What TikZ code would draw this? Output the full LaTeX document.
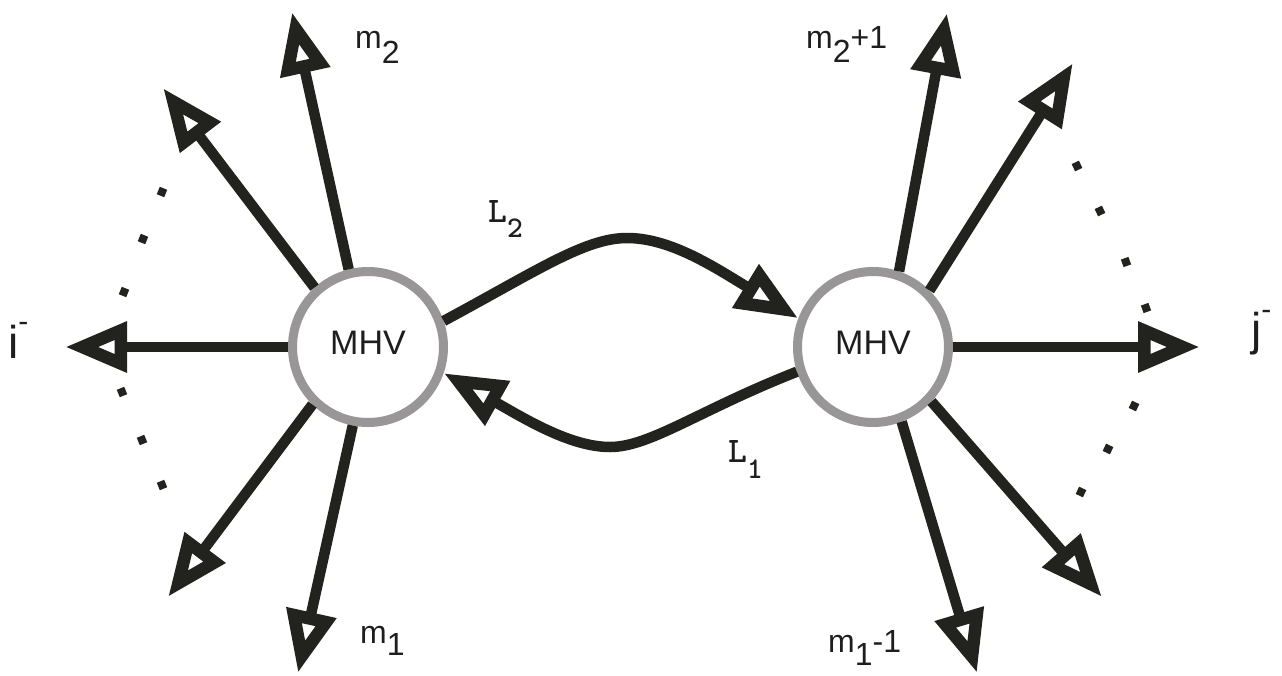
\documentclass[tikz,border=0pt]{standalone}
\usepackage{fontspec}
\setmainfont{Liberation Sans}
\usetikzlibrary{arrows.meta}
\definecolor{linedark}{RGB}{34,34,30}
\definecolor{ringgray}{RGB}{152,150,150}
\definecolor{textdark}{RGB}{30,30,30}
\begin{document}
\begin{tikzpicture}[x=1pt,y=-1pt,
  vertex/.style={circle, draw=ringgray, line width=9pt, fill=white, minimum size=151pt, inner sep=0pt,
    font=\fontsize{34}{34}\selectfont, text=textdark, text height=25pt, text depth=11pt},
  leg/.style={draw=linedark, line width=10.5pt, -{Triangle[open, length=62pt, width=48pt, line width=12.5pt]}},
  lab/.style={inner sep=0pt, anchor=base west, text=textdark, font=\fontsize{32}{32}\selectfont},
  loopl/.style={inner sep=0pt, anchor=base west, text=textdark, font=\ttfamily\bfseries\fontsize{36}{36}\selectfont},
  dotsq/.style={fill=linedark}
]
\useasboundingbox (0,0) rectangle (1282,675);
\fill[white] (0,0) rectangle (1282,675);

% vertices
\node[vertex] (A) at (368,347) {MHV};
\node[vertex] (B) at (873,347) {MHV};

% free ends of external legs
\coordinate (a1) at (292,12);
\coordinate (a2) at (163,88);
\coordinate (a3) at (65,347);
\coordinate (a4) at (168,597);
\coordinate (a5) at (298,673);
\coordinate (b1) at (947,13);
\coordinate (b2) at (1073,63);
\coordinate (b3) at (1200,347);
\coordinate (b4) at (1102,597);
\coordinate (b5) at (977,673);

\draw[leg] (A.104) -- (a1);
\draw[leg] (A.132) -- (a2);
\draw[leg] (A.180) -- (a3);
\draw[leg] (A.226) -- (a4);
\draw[leg] (A.259) -- (a5);
\draw[leg] (B.71) -- (b1);
\draw[leg] (B.45) -- (b2);
\draw[leg] (B.0) -- (b3);
\draw[leg] (B.-43) -- (b4);
\draw[leg] (B.-69) -- (b5);

% loop propagators
\coordinate (p2) at (627,238);
\coordinate (p1) at (610,447);
\draw[leg] (A.19) .. controls +(93,-50) and +(-42,0) .. (p2) .. controls +(43,0) and +(-85,-52) .. (B.159);
\draw[leg] (B.198) .. controls +(-97,38) and +(40,0) .. (p1) .. controls +(-40,0) and +(80,45) .. (A.341);

% dots
\foreach \x/\y/\r in {162/192/-22, 143/239/-22, 124/292/-22, 122/392/22, 142/440/22, 162/485/22,
                      1077/166/25, 1100/211/25, 1126/262/20, 1146/308/20, 1134/406/-25, 1108/449/-25, 1081/492/-25}
  \fill[dotsq, shift={(\x,\y)}, rotate=\r] (-4,-4) rectangle (4,4);

% labels
\node[lab] at (355,48) {m\raisebox{-15pt}{2}};
\node[lab] at (806,48) {m\raisebox{-14pt}{2}+1};
\node[lab] at (360,643) {m\raisebox{-12pt}{1}};
\node[lab] at (828,652) {m\raisebox{-13pt}{1}-1};
\node[lab, font=\fontsize{46}{46}\selectfont] at (8,358) {i\raisebox{27pt}{\fontsize{30}{30}\selectfont -}};
\node[lab, font=\fontsize{46}{46}\selectfont] at (1251,345) {j\raisebox{26pt}{\fontsize{30}{30}\selectfont -}};
\node[loopl] at (488,222) {L\raisebox{-15pt}{\fontsize{30}{30}\selectfont 2}};
\node[loopl] at (728,462) {L\raisebox{-16pt}{\fontsize{30}{30}\selectfont 1}};
\end{tikzpicture}
\end{document}
